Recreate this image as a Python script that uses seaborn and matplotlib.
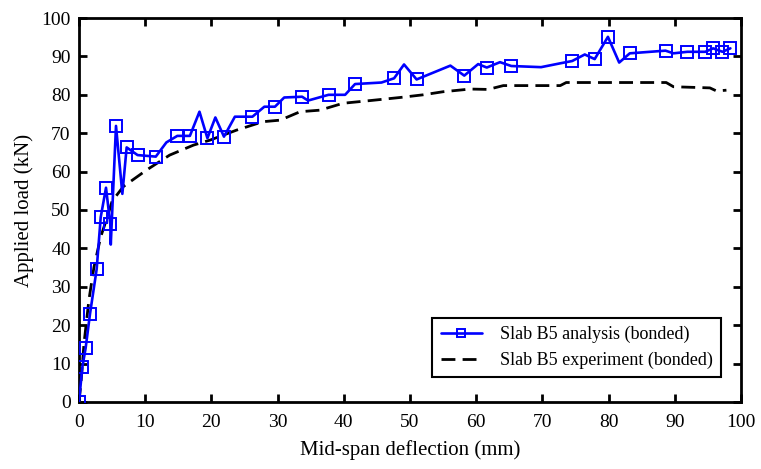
import matplotlib
matplotlib.use("Agg")
import matplotlib.pyplot as plt
import seaborn as sns
import pandas as pd

# ── data ──────────────────────────────────────────────────
# analysis curve: every vertex of the polyline
ana_x = [0.0, 0.5, 1.0, 1.66, 2.67, 3.28, 4.08, 4.73, 4.8, 5.59, 6.55, 7.2,
         8.85, 11.6, 13.2, 14.85, 16.75, 18.2, 19.4, 20.6, 21.9, 23.55, 26.2,
         28.0, 29.6, 31.0, 33.7, 34.6, 37.7, 40.2, 41.7, 45.7, 47.6, 49.1,
         51.0, 56.1, 58.2, 60.3, 61.6, 63.6, 65.3, 69.8, 72.7, 74.5, 76.4,
         77.9, 79.9, 81.6, 83.2, 88.6, 89.8, 91.9, 94.6, 95.8, 97.2, 98.4]
ana_y = [0.0, 9.0, 14.0, 22.9, 34.6, 48.1, 55.8, 46.3, 41.0, 71.9, 54.2, 66.3,
         64.3, 63.9, 67.6, 69.3, 69.3, 75.6, 68.7, 74.1, 69.1, 74.3, 74.3,
         76.9, 76.9, 79.3, 79.5, 78.5, 80.0, 80.0, 82.8, 83.2, 84.3, 87.9,
         84.0, 87.6, 85.0, 88.0, 87.1, 88.5, 87.5, 87.2, 88.2, 88.8, 90.5,
         89.3, 95.1, 88.4, 90.8, 91.5, 90.8, 91.2, 91.2, 92.1, 91.2, 92.1]
# deflections at which the analysis curve carries a square marker
ana_marked = [0.0, 0.5, 1.0, 1.66, 2.67, 3.28, 4.08, 4.73, 5.59, 7.2, 8.85,
              11.6, 14.85, 16.75, 19.4, 21.9, 26.2, 29.6, 33.7, 37.7, 41.7,
              47.6, 51.0, 58.2, 61.6, 65.3, 74.5, 77.9, 79.9, 83.2, 88.6,
              91.9, 94.6, 95.8, 97.2, 98.4]

exp_x = [0.0, 0.3, 0.76, 1.5, 2.27, 3.28, 4.3, 5.0, 6.7, 10.2, 13.7, 17.3,
         19.8, 23.8, 27.8, 30.4, 33.4, 36.4, 39.9, 44.0, 48.5, 52.0, 55.0,
         59.1, 61.8, 64.1, 72.7, 73.6, 88.7, 89.8, 95.3, 96.3, 97.8]
exp_y = [0.0, 5.0, 15.3, 26.6, 35.2, 43.0, 48.3, 52.3, 56.1, 60.4, 64.3, 66.9,
         68.2, 70.8, 73.0, 73.4, 75.6, 76.0, 77.8, 78.5, 79.3, 80.0, 80.8,
         81.5, 81.4, 82.4, 82.4, 83.2, 83.2, 82.1, 81.8, 81.0, 81.2]

ana = pd.DataFrame({"defl": ana_x, "load": ana_y})
exp = pd.DataFrame({"defl": exp_x, "load": exp_y})
mark_idx = [i for i, x in enumerate(ana_x) if x in ana_marked]

# ── style ─────────────────────────────────────────────────
sns.set_theme(style="ticks")
plt.rcParams.update({
    "font.family": ["Liberation Serif", "DejaVu Serif"],
    "axes.edgecolor": "black",
    "axes.linewidth": 2.0,
    "xtick.direction": "in",
    "ytick.direction": "in",
    "xtick.major.size": 6,
    "ytick.major.size": 6,
    "xtick.major.width": 2.0,
    "ytick.major.width": 2.0,
    "xtick.color": "black",
    "ytick.color": "black",
    "text.color": "black",
    "axes.labelcolor": "black",
})

fig = plt.figure(figsize=(7.61, 4.69), dpi=100)
ax = fig.add_axes([0.1038, 0.1429, 0.8699, 0.8187])

sns.lineplot(data=ana, x="defl", y="load", ax=ax, sort=False, estimator=None,
             color="#0000ff", lw=1.9, marker="s", markevery=mark_idx,
             markersize=8, markerfacecolor="none", markeredgecolor="#0000ff",
             markeredgewidth=1.4, label="Slab B5 analysis (bonded)", zorder=3)
sns.lineplot(data=exp, x="defl", y="load", ax=ax, sort=False, estimator=None,
             color="black", lw=2.0, linestyle=(0, (5, 2.6)),
             label="Slab B5 experiment (bonded)", zorder=2)

ax.set_xlim(0, 100)
ax.set_ylim(0, 100)
ax.set_xticks(range(0, 101, 10))
ax.set_yticks(range(0, 101, 10))
ax.tick_params(axis="both", labelsize=14, top=True, right=True)
ax.tick_params(axis="x", pad=9)
ax.tick_params(axis="y", pad=6)
ax.set_xlabel("Mid-span deflection (mm)", fontsize=15, labelpad=6)
ax.set_ylabel("Applied load (kN)", fontsize=15, labelpad=5)

leg = ax.legend(loc="lower right", bbox_to_anchor=(0.970, 0.065),
                fontsize=13, frameon=True, fancybox=False,
                edgecolor="black", framealpha=1, borderpad=0.45,
                handlelength=2.3, handletextpad=1.0, labelspacing=0.45,
                markerscale=0.7, borderaxespad=0)
leg.get_frame().set_linewidth(1.5)

fig.savefig("out.png", dpi=100)
